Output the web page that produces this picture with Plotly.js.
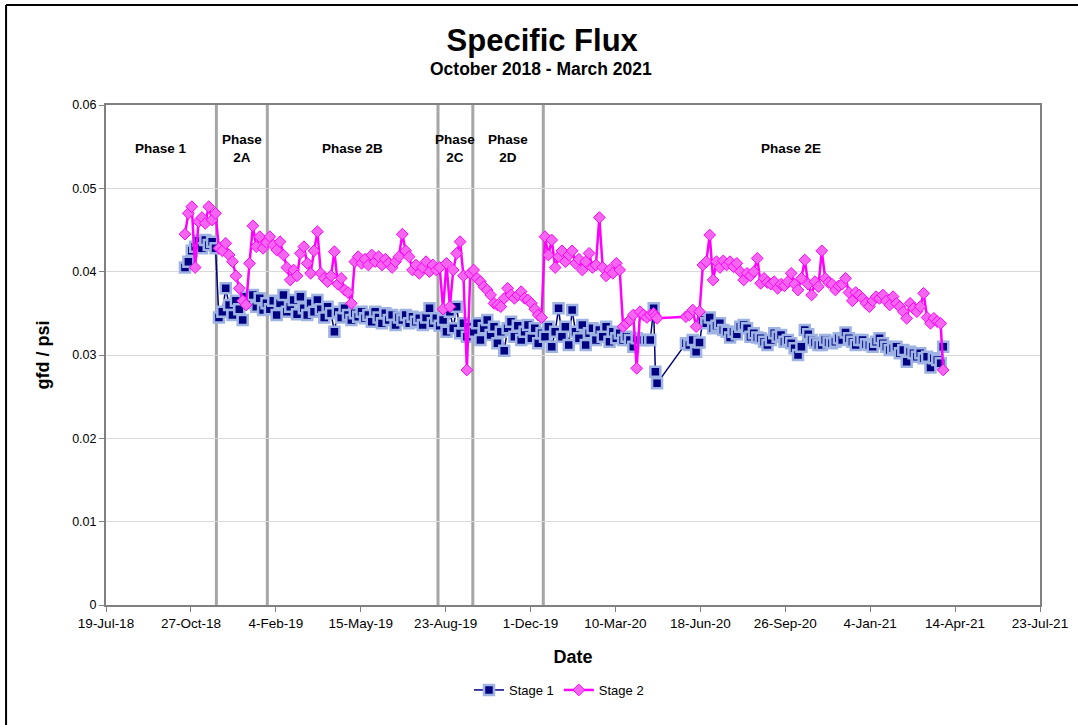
<!DOCTYPE html>
<html>
<head>
<meta charset="utf-8">
<script src="https://cdn.plot.ly/plotly-3.0.1.min.js"></script>
<style>html,body{margin:0;padding:0;background:#fff;}#chart{width:1078px;height:725px;}</style>
</head>
<body>
<div id="chart"></div>
<script>
// Sampling dates (shared by both stages)
const dates = [
"2018-10-20","2018-10-24","2018-10-28","2018-11-01","2018-11-05","2018-11-09","2018-11-13","2018-11-17","2018-11-21","2018-11-25",
"2018-11-29","2018-12-03","2018-12-07","2018-12-11","2018-12-15","2018-12-19","2018-12-23","2018-12-27","2018-12-31",
"2019-01-04","2019-01-08","2019-01-12","2019-01-16","2019-01-20","2019-01-24","2019-01-28",
"2019-02-01","2019-02-05","2019-02-09","2019-02-13","2019-02-17","2019-02-21","2019-02-25",
"2019-03-01","2019-03-05","2019-03-09","2019-03-13","2019-03-17","2019-03-21","2019-03-25","2019-03-29",
"2019-04-02","2019-04-06","2019-04-10","2019-04-14","2019-04-18","2019-04-22","2019-04-26","2019-04-30",
"2019-05-04","2019-05-08","2019-05-12","2019-05-16","2019-05-20","2019-05-24","2019-05-28",
"2019-06-01","2019-06-05","2019-06-09","2019-06-13","2019-06-17","2019-06-21","2019-06-25","2019-06-29",
"2019-07-03","2019-07-07","2019-07-11","2019-07-15","2019-07-19","2019-07-23","2019-07-27","2019-07-31",
"2019-08-04","2019-08-08","2019-08-12","2019-08-16","2019-08-20","2019-08-24","2019-08-28",
"2019-09-01","2019-09-05","2019-09-09","2019-09-13","2019-09-17","2019-09-21","2019-09-25","2019-09-29",
"2019-10-03","2019-10-07","2019-10-11","2019-10-15","2019-10-19","2019-10-23","2019-10-27","2019-10-31",
"2019-11-04","2019-11-08","2019-11-12","2019-11-16","2019-11-20","2019-11-24","2019-11-28",
"2019-12-02","2019-12-06","2019-12-10","2019-12-14","2019-12-18","2019-12-22","2019-12-26","2019-12-30",
"2020-01-03","2020-01-07","2020-01-11","2020-01-15","2020-01-19","2020-01-23","2020-01-27","2020-01-31",
"2020-02-04","2020-02-08","2020-02-12","2020-02-16","2020-02-20","2020-02-24","2020-02-28",
"2020-03-03","2020-03-07","2020-03-11","2020-03-15","2020-03-19","2020-03-23","2020-03-27","2020-03-31",
"2020-04-04","2020-04-08","2020-04-12","2020-04-16","2020-04-20","2020-04-24","2020-04-26","2020-04-28",
"2020-06-01","2020-06-05","2020-06-09","2020-06-13","2020-06-17","2020-06-21","2020-06-25","2020-06-29",
"2020-07-03","2020-07-07","2020-07-11","2020-07-15","2020-07-19","2020-07-23","2020-07-27","2020-07-31",
"2020-08-04","2020-08-08","2020-08-12","2020-08-16","2020-08-20","2020-08-24","2020-08-28",
"2020-09-01","2020-09-05","2020-09-09","2020-09-13","2020-09-17","2020-09-21","2020-09-25","2020-09-29",
"2020-10-03","2020-10-07","2020-10-11","2020-10-15","2020-10-19","2020-10-23","2020-10-27","2020-10-31",
"2020-11-04","2020-11-08","2020-11-12","2020-11-16","2020-11-20","2020-11-24","2020-11-28",
"2020-12-02","2020-12-06","2020-12-10","2020-12-14","2020-12-18","2020-12-22","2020-12-26","2020-12-30",
"2021-01-03","2021-01-07","2021-01-11","2021-01-15","2021-01-19","2021-01-23","2021-01-27","2021-01-31",
"2021-02-04","2021-02-08","2021-02-12","2021-02-16","2021-02-20","2021-02-24","2021-02-28",
"2021-03-04","2021-03-08","2021-03-12","2021-03-16","2021-03-20","2021-03-24","2021-03-28","2021-03-31"
];

// Stage 1 specific flux (gfd/psi)
const stage1 = [
0.0405,0.0412,0.0425,0.0430,0.0437,0.0428,0.0438,0.0432,0.0436,0.0428,
0.0345,0.0352,0.0380,0.0360,0.0348,0.0365,0.0355,0.0342,0.0370,
0.0362,0.0372,0.0358,0.0368,0.0354,0.0362,0.0355,
0.0365,0.0348,0.0362,0.0372,0.0352,0.0358,0.0366,
0.0349,0.0370,0.0356,0.0348,0.0362,0.0352,0.0366,0.0355,
0.0345,0.0358,0.0350,0.0328,0.0352,0.0345,0.0356,0.0348,
0.0342,0.0350,0.0346,0.0352,0.0344,0.0348,0.0340,
0.0352,0.0345,0.0338,0.0350,0.0342,0.0348,0.0336,0.0345,
0.0342,0.0348,0.0338,0.0346,0.0340,0.0344,0.0336,0.0345,
0.0356,0.0338,0.0344,0.0335,0.0342,0.0328,0.0352,
0.0332,0.0358,0.0326,0.0338,0.0322,0.0334,0.0328,0.0338,
0.0318,0.0332,0.0342,0.0324,0.0334,0.0314,0.0328,0.0305,
0.0332,0.0340,0.0322,0.0335,0.0318,0.0328,0.0336,
0.0320,0.0332,0.0314,0.0326,0.0322,0.0334,0.0310,0.0328,
0.0356,0.0322,0.0334,0.0312,0.0354,0.0328,0.0320,0.0336,
0.0312,0.0326,0.0332,0.0318,0.0330,0.0322,0.0334,
0.0316,0.0328,0.0320,0.0326,0.0318,0.0322,0.0318,0.0310,
0.0320,0.0318,0.0318,0.0318,0.0318,0.0356,0.0280,0.0266,
0.0314,0.0312,0.0318,0.0304,0.0315,0.0342,0.0338,0.0345,
0.0332,0.0335,0.0338,0.0330,0.0328,0.0321,0.0328,0.0325,
0.0334,0.0336,0.0332,0.0322,0.0326,0.0321,0.0320,
0.0316,0.0312,0.0318,0.0326,0.0322,0.0324,0.0316,0.0318,
0.0314,0.0308,0.0300,0.0310,0.0330,0.0325,0.0318,0.0315,
0.0312,0.0312,0.0318,0.0315,0.0314,0.0316,0.0320,
0.0318,0.0327,0.0320,0.0316,0.0312,0.0318,0.0318,0.0313,
0.0312,0.0310,0.0316,0.0320,0.0314,0.0310,0.0306,0.0308,
0.0310,0.0302,0.0306,0.0292,0.0304,0.0302,0.0298,
0.0302,0.0296,0.0298,0.0285,0.0296,0.0294,0.0290,0.0310
];

// Stage 2 specific flux (gfd/psi)
const stage2 = [
0.0445,0.0470,0.0478,0.0405,0.0460,0.0465,0.0458,0.0478,0.0462,0.0470,
0.0428,0.0425,0.0434,0.0420,0.0412,0.0395,0.0380,0.0365,0.0360,
0.0410,0.0455,0.0430,0.0442,0.0428,0.0435,0.0442,
0.0432,0.0426,0.0436,0.0420,0.0405,0.0390,0.0402,
0.0395,0.0422,0.0430,0.0410,0.0398,0.0425,0.0448,0.0398,
0.0392,0.0388,0.0395,0.0424,0.0385,0.0392,0.0378,0.0375,
0.0362,0.0412,0.0418,0.0410,0.0415,0.0408,0.0420,
0.0412,0.0418,0.0408,0.0415,0.0410,0.0405,0.0412,0.0418,
0.0445,0.0425,0.0418,0.0402,0.0408,0.0398,0.0405,0.0412,
0.0400,0.0408,0.0402,0.0405,0.0355,0.0410,0.0358,
0.0402,0.0422,0.0436,0.0395,0.0282,0.0398,0.0402,0.0392,
0.0388,0.0382,0.0378,0.0372,0.0362,0.0360,0.0358,0.0368,
0.0380,0.0372,0.0368,0.0372,0.0376,0.0368,0.0366,
0.0362,0.0355,0.0348,0.0345,0.0442,0.0420,0.0438,0.0405,
0.0418,0.0425,0.0412,0.0420,0.0425,0.0410,0.0415,0.0402,
0.0412,0.0422,0.0405,0.0408,0.0465,0.0405,0.0395,
0.0402,0.0398,0.0410,0.0402,0.0334,0.0338,0.0342,0.0348,
0.0284,0.0352,0.0348,0.0345,0.0348,0.0350,0.0347,0.0344,
0.0346,0.0348,0.0354,0.0334,0.0352,0.0408,0.0412,0.0444,
0.0390,0.0412,0.0405,0.0413,0.0408,0.0412,0.0406,0.0410,
0.0400,0.0390,0.0398,0.0395,0.0400,0.0416,0.0386,
0.0392,0.0387,0.0385,0.0388,0.0380,0.0385,0.0383,0.0388,
0.0398,0.0385,0.0378,0.0392,0.0414,0.0385,0.0372,0.0388,
0.0382,0.0425,0.0392,0.0387,0.0385,0.0378,0.0383,
0.0385,0.0392,0.0375,0.0365,0.0375,0.0372,0.0368,0.0362,
0.0358,0.0365,0.0370,0.0368,0.0372,0.0365,0.0360,0.0370,
0.0362,0.0358,0.0352,0.0344,0.0362,0.0356,0.0352,
0.0358,0.0374,0.0345,0.0338,0.0344,0.0340,0.0338,0.0282
];

// Phase boundaries and labels
const phaseBounds = ["2018-11-26","2019-01-25","2019-08-14","2019-09-24","2019-12-16"];
const phaseLabels = ["Phase 1","Phase<br>2A","Phase 2B","Phase<br>2C","Phase<br>2D","Phase 2E"];
const axisStart = "2018-07-19", axisEnd = "2021-07-23";

const FONT = "Arial, 'Liberation Sans', sans-serif";

const traces = [
  {
    x: dates, y: stage1, name: "Stage 1", type: "scatter", mode: "lines+markers",
    line: {color: "#000080", width: 1.5},
    marker: {symbol: "square", size: 10, color: "#000080", line: {color: "#9fb4e2", width: 2.5}},
    connectgaps: true
  },
  {
    x: dates, y: stage2, name: "Stage 2", type: "scatter", mode: "lines+markers",
    line: {color: "#ff00ff", width: 2.5},
    marker: {symbol: "diamond", size: 9, color: "#f566f0", line: {color: "#ff00ff", width: 1}},
    connectgaps: true
  }
];

// label positions: midpoints between boundaries
const t = s => new Date(s + "T00:00:00Z").getTime();
const edges = [axisStart].concat(phaseBounds).concat([axisEnd]);
const annotations = phaseLabels.map((lab, i) => {
  const mid = new Date((t(edges[i]) + t(edges[i+1])) / 2).toISOString().slice(0,10);
  return {x: mid, y: 0.0548, xref: "x", yref: "y", text: "<b>" + lab + "</b>", showarrow: false,
          font: {family: FONT, size: 13.5, color: "#000"}, align: "center"};
});
annotations.push({
  text: "<b>October 2018 - March 2021</b>", xref: "paper", yref: "paper",
  x: 0.466, y: 1.072, yanchor: "middle", showarrow: false, font: {family: FONT, size: 17.5, color: "#000"}
});

const shapes = phaseBounds.map(d => ({
  type: "line", xref: "x", yref: "y", x0: d, x1: d, y0: 0, y1: 0.06,
  line: {color: "#a6a6a6", width: 3}, layer: "below"
}));
// outer frame (left and top)
shapes.push({type: "line", xref: "paper", yref: "paper", x0: -0.107, x1: -0.107, y0: -0.26, y1: 1.2,
  line: {color: "#000", width: 2}});
shapes.push({type: "line", xref: "paper", yref: "paper", x0: -0.107, x1: 1.05, y0: 1.2, y1: 1.2,
  line: {color: "#000", width: 2}});

const layout = {
  width: 1078, height: 725,
  margin: {l: 106, r: 38, t: 105, b: 120},
  paper_bgcolor: "#fff", plot_bgcolor: "#fff",
  font: {family: FONT, size: 12, color: "#000"},
  title: {text: "<b>Specific Flux</b>", x: 0.503, xanchor: "center", y: 0.945, yanchor: "middle",
          font: {family: FONT, size: 31, color: "#000"}},
  xaxis: {
    type: "date", range: [axisStart, axisEnd], tick0: axisStart, dtick: 8.64e9,
    tickformat: "%-d-%b-%y", showgrid: false, zeroline: false,
    showline: true, linecolor: "#808080", linewidth: 2, mirror: true,
    ticks: "outside", ticklen: 5, tickcolor: "#808080",
    tickfont: {family: FONT, size: 13.5, color: "#000"},
    title: {text: "<b>Date</b>", font: {family: FONT, size: 18, color: "#000"}, standoff: 20}
  },
  yaxis: {
    range: [0, 0.06], dtick: 0.01, tick0: 0, showgrid: true, gridcolor: "#d9d9d9", gridwidth: 1,
    zeroline: false, showline: true, linecolor: "#808080", linewidth: 2, mirror: true,
    ticks: "outside", ticklen: 5, tickcolor: "#808080",
    tickfont: {family: FONT, size: 12.5, color: "#000"},
    title: {text: "<b>gfd / psi</b>", font: {family: FONT, size: 18, color: "#000"}, standoff: 18}
  },
  legend: {orientation: "h", x: 0.485, xanchor: "center", y: -0.17, yanchor: "middle",
           font: {family: FONT, size: 13, color: "#000"}, bgcolor: "rgba(0,0,0,0)"},
  showlegend: true,
  annotations: annotations,
  shapes: shapes
};

Plotly.newPlot("chart", traces, layout, {staticPlot: true, displayModeBar: false});
</script>
</body>
</html>
